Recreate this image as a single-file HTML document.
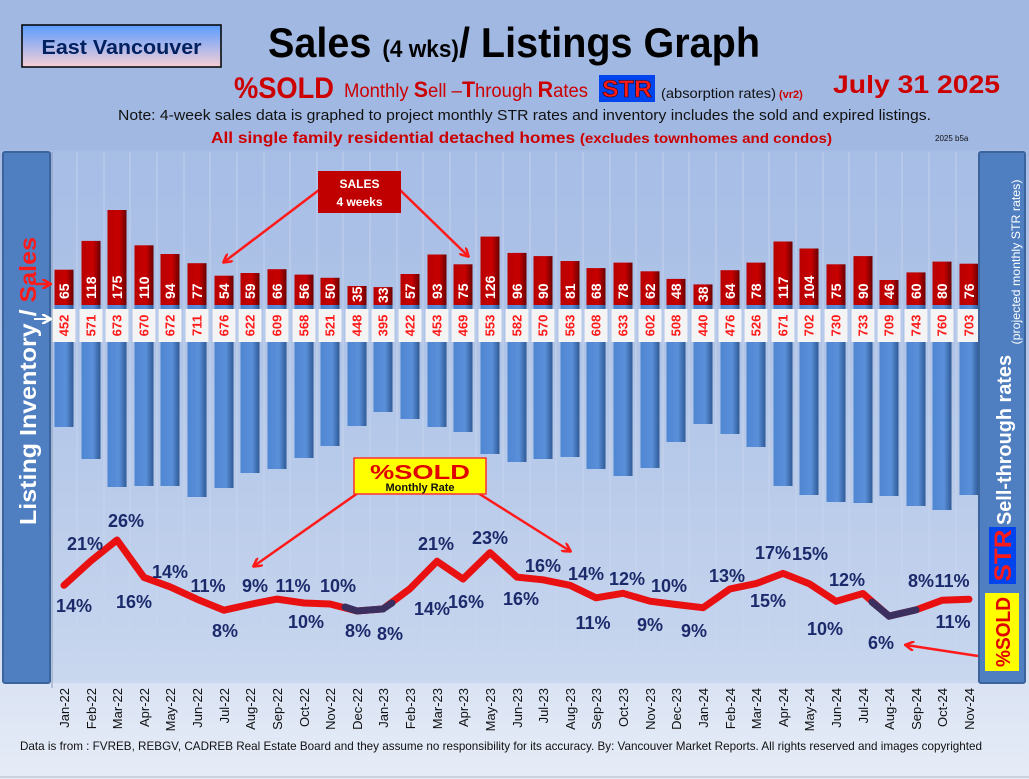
<!DOCTYPE html>
<html><head><meta charset="utf-8"><style>
html,body{margin:0;padding:0;width:1029px;height:779px;overflow:hidden;}
svg{display:block;}
</style></head><body>
<svg width="1029" height="779" viewBox="0 0 1029 779" xmlns="http://www.w3.org/2000/svg" font-family="'Liberation Sans',sans-serif">
<defs>
<linearGradient id="bg" x1="0" y1="0" x2="0" y2="1"><stop offset="0" stop-color="#9cb4e2"/><stop offset="0.5" stop-color="#b7c9ea"/><stop offset="1" stop-color="#e6ecf7"/></linearGradient>
<linearGradient id="ev" x1="0" y1="0" x2="0" y2="1"><stop offset="0" stop-color="#5a9cff"/><stop offset="1" stop-color="#f6cfd6"/></linearGradient>
<linearGradient id="rb" x1="0" y1="0" x2="1" y2="0"><stop offset="0" stop-color="#b80000"/><stop offset="0.6" stop-color="#c80000"/><stop offset="1" stop-color="#6a0000"/></linearGradient>
<linearGradient id="bb" x1="0" y1="0" x2="1" y2="0"><stop offset="0" stop-color="#4f86d2"/><stop offset="0.6" stop-color="#5a90da"/><stop offset="1" stop-color="#2f5a96"/></linearGradient>
<marker id="ah" markerWidth="10" markerHeight="10" refX="8" refY="5" orient="auto" markerUnits="userSpaceOnUse"><path d="M0,0 L9,5 L0,10" fill="none" stroke="#ff1a1a" stroke-width="2.5"/></marker>
<marker id="aw" markerWidth="10" markerHeight="10" refX="8" refY="5" orient="auto" markerUnits="userSpaceOnUse"><path d="M0,0 L9,5 L0,10" fill="none" stroke="#fff" stroke-width="2.5"/></marker>
</defs>
<rect width="1029" height="779" fill="url(#bg)"/>
<rect x="0" y="0" width="1029" height="150" fill="#a1b8e3"/>
<rect x="22" y="25" width="199" height="42" fill="url(#ev)" stroke="#000" stroke-width="1.5"/>
<text x="121.5" y="54" text-anchor="middle" font-size="20" font-weight="bold" fill="#002060" textLength="160" lengthAdjust="spacingAndGlyphs">East Vancouver</text>
<text x="268" y="57" font-size="42" font-weight="bold" fill="#000" textLength="492" lengthAdjust="spacingAndGlyphs">Sales <tspan font-size="24">(4 wks)</tspan>/ Listings Graph</text>
<text x="234" y="98" font-size="30" font-weight="bold" fill="#cc0000" textLength="100" lengthAdjust="spacingAndGlyphs">%SOLD</text>
<text x="344" y="97" font-size="19" fill="#cc0000" textLength="244" lengthAdjust="spacingAndGlyphs">Monthly <tspan font-weight="bold" font-size="22">S</tspan>ell –<tspan font-weight="bold" font-size="22">T</tspan>hrough <tspan font-weight="bold" font-size="22">R</tspan>ates</text>
<rect x="599" y="75" width="56" height="27" fill="#0044ee"/>
<text x="627" y="97" text-anchor="middle" font-size="24" font-weight="bold" fill="#ff1a1a" stroke="#300" stroke-width="0.6" textLength="50" lengthAdjust="spacingAndGlyphs">STR</text>
<text x="661" y="98" font-size="14" fill="#111" textLength="115" lengthAdjust="spacingAndGlyphs">(absorption rates)</text>
<text x="779" y="98" font-size="11" font-weight="bold" fill="#cc0000">(vr2)</text>
<text x="833" y="93" font-size="25" font-weight="bold" fill="#cc0000" textLength="167" lengthAdjust="spacingAndGlyphs">July   31  2025</text>
<text x="118" y="120" font-size="15" fill="#111" textLength="813" lengthAdjust="spacingAndGlyphs">Note: 4-week sales data is graphed to project monthly STR rates and inventory includes the sold and expired listings.</text>
<text x="211" y="143" font-size="16" font-weight="bold" fill="#cc0000" textLength="621" lengthAdjust="spacingAndGlyphs">All single family residential detached homes <tspan font-size="14">(excludes townhomes and condos)</tspan></text>
<text x="935" y="141" font-size="8" fill="#111">2025 b5a</text>
<rect x="52" y="152" width="926" height="531" fill="#a9bfe6" opacity="0.35"/>
<g stroke="#c9d6ef" stroke-width="1" opacity="0.8">
<line x1="77" y1="152" x2="77" y2="683"/><line x1="104" y1="152" x2="104" y2="683"/><line x1="130" y1="152" x2="130" y2="683"/><line x1="157" y1="152" x2="157" y2="683"/><line x1="184" y1="152" x2="184" y2="683"/><line x1="210" y1="152" x2="210" y2="683"/><line x1="237" y1="152" x2="237" y2="683"/><line x1="264" y1="152" x2="264" y2="683"/><line x1="290" y1="152" x2="290" y2="683"/><line x1="317" y1="152" x2="317" y2="683"/><line x1="343" y1="152" x2="343" y2="683"/><line x1="370" y1="152" x2="370" y2="683"/><line x1="397" y1="152" x2="397" y2="683"/><line x1="423" y1="152" x2="423" y2="683"/><line x1="450" y1="152" x2="450" y2="683"/><line x1="476" y1="152" x2="476" y2="683"/><line x1="503" y1="152" x2="503" y2="683"/><line x1="530" y1="152" x2="530" y2="683"/><line x1="556" y1="152" x2="556" y2="683"/><line x1="583" y1="152" x2="583" y2="683"/><line x1="610" y1="152" x2="610" y2="683"/><line x1="636" y1="152" x2="636" y2="683"/><line x1="663" y1="152" x2="663" y2="683"/><line x1="689" y1="152" x2="689" y2="683"/><line x1="716" y1="152" x2="716" y2="683"/><line x1="743" y1="152" x2="743" y2="683"/><line x1="769" y1="152" x2="769" y2="683"/><line x1="796" y1="152" x2="796" y2="683"/><line x1="823" y1="152" x2="823" y2="683"/><line x1="849" y1="152" x2="849" y2="683"/><line x1="876" y1="152" x2="876" y2="683"/><line x1="902" y1="152" x2="902" y2="683"/><line x1="929" y1="152" x2="929" y2="683"/><line x1="956" y1="152" x2="956" y2="683"/>
</g>
<line x1="52" y1="152" x2="52" y2="688" stroke="#8a9bb8" stroke-width="1"/>
<g fill="url(#bb)">
<rect x="54.5" y="305" width="19" height="122"/><rect x="81.5" y="305" width="19" height="154"/><rect x="107.5" y="305" width="19" height="182"/><rect x="134.5" y="305" width="19" height="181"/><rect x="160.5" y="305" width="19" height="181"/><rect x="187.5" y="305" width="19" height="192"/><rect x="214.5" y="305" width="19" height="183"/><rect x="240.5" y="305" width="19" height="168"/><rect x="267.5" y="305" width="19" height="164"/><rect x="294.5" y="305" width="19" height="153"/><rect x="320.5" y="305" width="19" height="141"/><rect x="347.5" y="305" width="19" height="121"/><rect x="373.5" y="305" width="19" height="107"/><rect x="400.5" y="305" width="19" height="114"/><rect x="427.5" y="305" width="19" height="122"/><rect x="453.5" y="305" width="19" height="127"/><rect x="480.5" y="305" width="19" height="149"/><rect x="507.5" y="305" width="19" height="157"/><rect x="533.5" y="305" width="19" height="154"/><rect x="560.5" y="305" width="19" height="152"/><rect x="586.5" y="305" width="19" height="164"/><rect x="613.5" y="305" width="19" height="171"/><rect x="640.5" y="305" width="19" height="163"/><rect x="666.5" y="305" width="19" height="137"/><rect x="693.5" y="305" width="19" height="119"/><rect x="720.5" y="305" width="19" height="129"/><rect x="746.5" y="305" width="19" height="142"/><rect x="773.5" y="305" width="19" height="181"/><rect x="799.5" y="305" width="19" height="190"/><rect x="826.5" y="305" width="19" height="197"/><rect x="853.5" y="305" width="19" height="198"/><rect x="879.5" y="305" width="19" height="191"/><rect x="906.5" y="305" width="19" height="201"/><rect x="932.5" y="305" width="19" height="205"/><rect x="959.5" y="305" width="19" height="190"/>
</g>
<g fill="url(#rb)">
<rect x="54.5" y="269.7" width="19" height="35.3"/><rect x="81.5" y="240.9" width="19" height="64.1"/><rect x="107.5" y="210" width="19" height="95"/><rect x="134.5" y="245.3" width="19" height="59.7"/><rect x="160.5" y="254" width="19" height="51"/><rect x="187.5" y="263.2" width="19" height="41.8"/><rect x="214.5" y="275.7" width="19" height="29.3"/><rect x="240.5" y="273" width="19" height="32"/><rect x="267.5" y="269.2" width="19" height="35.8"/><rect x="294.5" y="274.6" width="19" height="30.4"/><rect x="320.5" y="277.8" width="19" height="27.2"/><rect x="347.5" y="286" width="19" height="19"/><rect x="373.5" y="287.1" width="19" height="17.9"/><rect x="400.5" y="274" width="19" height="31"/><rect x="427.5" y="254.5" width="19" height="50.5"/><rect x="453.5" y="264.3" width="19" height="40.7"/><rect x="480.5" y="236.6" width="19" height="68.4"/><rect x="507.5" y="252.9" width="19" height="52.1"/><rect x="533.5" y="256.1" width="19" height="48.9"/><rect x="560.5" y="261" width="19" height="44"/><rect x="586.5" y="268.1" width="19" height="36.9"/><rect x="613.5" y="262.6" width="19" height="42.4"/><rect x="640.5" y="271.3" width="19" height="33.7"/><rect x="666.5" y="278.9" width="19" height="26.1"/><rect x="693.5" y="284.4" width="19" height="20.6"/><rect x="720.5" y="270.2" width="19" height="34.8"/><rect x="746.5" y="262.6" width="19" height="42.4"/><rect x="773.5" y="241.5" width="19" height="63.5"/><rect x="799.5" y="248.5" width="19" height="56.5"/><rect x="826.5" y="264.3" width="19" height="40.7"/><rect x="853.5" y="256.1" width="19" height="48.9"/><rect x="879.5" y="280" width="19" height="25"/><rect x="906.5" y="272.4" width="19" height="32.6"/><rect x="932.5" y="261.6" width="19" height="43.4"/><rect x="959.5" y="263.7" width="19" height="41.3"/>
</g>
<g fill="#f4f4f4">
<rect x="52.5" y="309" width="23" height="33"/><rect x="79.5" y="309" width="23" height="33"/><rect x="105.5" y="309" width="23" height="33"/><rect x="132.5" y="309" width="23" height="33"/><rect x="158.5" y="309" width="23" height="33"/><rect x="185.5" y="309" width="23" height="33"/><rect x="212.5" y="309" width="23" height="33"/><rect x="238.5" y="309" width="23" height="33"/><rect x="265.5" y="309" width="23" height="33"/><rect x="292.5" y="309" width="23" height="33"/><rect x="318.5" y="309" width="23" height="33"/><rect x="345.5" y="309" width="23" height="33"/><rect x="371.5" y="309" width="23" height="33"/><rect x="398.5" y="309" width="23" height="33"/><rect x="425.5" y="309" width="23" height="33"/><rect x="451.5" y="309" width="23" height="33"/><rect x="478.5" y="309" width="23" height="33"/><rect x="505.5" y="309" width="23" height="33"/><rect x="531.5" y="309" width="23" height="33"/><rect x="558.5" y="309" width="23" height="33"/><rect x="584.5" y="309" width="23" height="33"/><rect x="611.5" y="309" width="23" height="33"/><rect x="638.5" y="309" width="23" height="33"/><rect x="664.5" y="309" width="23" height="33"/><rect x="691.5" y="309" width="23" height="33"/><rect x="718.5" y="309" width="23" height="33"/><rect x="744.5" y="309" width="23" height="33"/><rect x="771.5" y="309" width="23" height="33"/><rect x="797.5" y="309" width="23" height="33"/><rect x="824.5" y="309" width="23" height="33"/><rect x="851.5" y="309" width="23" height="33"/><rect x="877.5" y="309" width="23" height="33"/><rect x="904.5" y="309" width="23" height="33"/><rect x="930.5" y="309" width="23" height="33"/><rect x="957.5" y="309" width="23" height="33"/>
</g>
<g font-size="13" font-weight="bold" fill="#ff1a1a" text-anchor="middle">
<text transform="translate(68.5,325.5) rotate(-90)">452</text><text transform="translate(95.5,325.5) rotate(-90)">571</text><text transform="translate(121.5,325.5) rotate(-90)">673</text><text transform="translate(148.5,325.5) rotate(-90)">670</text><text transform="translate(174.5,325.5) rotate(-90)">672</text><text transform="translate(201.5,325.5) rotate(-90)">711</text><text transform="translate(228.5,325.5) rotate(-90)">676</text><text transform="translate(254.5,325.5) rotate(-90)">622</text><text transform="translate(281.5,325.5) rotate(-90)">609</text><text transform="translate(308.5,325.5) rotate(-90)">568</text><text transform="translate(334.5,325.5) rotate(-90)">521</text><text transform="translate(361.5,325.5) rotate(-90)">448</text><text transform="translate(387.5,325.5) rotate(-90)">395</text><text transform="translate(414.5,325.5) rotate(-90)">422</text><text transform="translate(441.5,325.5) rotate(-90)">453</text><text transform="translate(467.5,325.5) rotate(-90)">469</text><text transform="translate(494.5,325.5) rotate(-90)">553</text><text transform="translate(521.5,325.5) rotate(-90)">582</text><text transform="translate(547.5,325.5) rotate(-90)">570</text><text transform="translate(574.5,325.5) rotate(-90)">563</text><text transform="translate(600.5,325.5) rotate(-90)">608</text><text transform="translate(627.5,325.5) rotate(-90)">633</text><text transform="translate(654.5,325.5) rotate(-90)">602</text><text transform="translate(680.5,325.5) rotate(-90)">508</text><text transform="translate(707.5,325.5) rotate(-90)">440</text><text transform="translate(734.5,325.5) rotate(-90)">476</text><text transform="translate(760.5,325.5) rotate(-90)">526</text><text transform="translate(787.5,325.5) rotate(-90)">671</text><text transform="translate(813.5,325.5) rotate(-90)">702</text><text transform="translate(840.5,325.5) rotate(-90)">730</text><text transform="translate(867.5,325.5) rotate(-90)">733</text><text transform="translate(893.5,325.5) rotate(-90)">709</text><text transform="translate(920.5,325.5) rotate(-90)">743</text><text transform="translate(946.5,325.5) rotate(-90)">760</text><text transform="translate(973.5,325.5) rotate(-90)">703</text>
</g>
<g font-size="14" font-weight="bold" fill="#fff">
<text transform="translate(69,299) rotate(-90)">65</text><text transform="translate(96,299) rotate(-90)">118</text><text transform="translate(122,299) rotate(-90)">175</text><text transform="translate(149,299) rotate(-90)">110</text><text transform="translate(175,299) rotate(-90)">94</text><text transform="translate(202,299) rotate(-90)">77</text><text transform="translate(229,299) rotate(-90)">54</text><text transform="translate(255,299) rotate(-90)">59</text><text transform="translate(282,299) rotate(-90)">66</text><text transform="translate(309,299) rotate(-90)">56</text><text transform="translate(335,299) rotate(-90)">50</text><text transform="translate(362,302) rotate(-90)">35</text><text transform="translate(388,303) rotate(-90)">33</text><text transform="translate(415,299) rotate(-90)">57</text><text transform="translate(442,299) rotate(-90)">93</text><text transform="translate(468,299) rotate(-90)">75</text><text transform="translate(495,299) rotate(-90)">126</text><text transform="translate(522,299) rotate(-90)">96</text><text transform="translate(548,299) rotate(-90)">90</text><text transform="translate(575,299) rotate(-90)">81</text><text transform="translate(601,299) rotate(-90)">68</text><text transform="translate(628,299) rotate(-90)">78</text><text transform="translate(655,299) rotate(-90)">62</text><text transform="translate(681,299) rotate(-90)">48</text><text transform="translate(708,302) rotate(-90)">38</text><text transform="translate(735,299) rotate(-90)">64</text><text transform="translate(761,299) rotate(-90)">78</text><text transform="translate(788,299) rotate(-90)">117</text><text transform="translate(814,299) rotate(-90)">104</text><text transform="translate(841,299) rotate(-90)">75</text><text transform="translate(868,299) rotate(-90)">90</text><text transform="translate(894,299) rotate(-90)">46</text><text transform="translate(921,299) rotate(-90)">60</text><text transform="translate(947,299) rotate(-90)">80</text><text transform="translate(974,299) rotate(-90)">76</text>
</g>
<polyline fill="none" stroke="#e81010" stroke-width="7" stroke-linejoin="round" stroke-linecap="round" points="64,585.3 91,560.8 117,540 144,577.4 170,586.8 197,599.2 224,610.2 250,604.4 277,599.1 304,603 330,604 357,611 383,608.9 410,588.7 437,561.3 463,579 490,552.6 517,577.1 543,579.8 570,585.3 596,597.8 623,593.3 650,601.2 676,604.5 703,607.7 730,588.9 756,583.6 783,573.4 809,583.6 836,601.3 863,593.5 889,616.1 916,609.9 942,600.3 969,599.2"/>
<polyline fill="none" stroke="#3a2f5e" stroke-width="7" stroke-linecap="round" points="345,607 357,611 383,608.9 392,603"/>
<polyline fill="none" stroke="#3a2f5e" stroke-width="7" stroke-linecap="round" points="872,602 889,616.1 916,609.9"/>
<g font-size="18" font-weight="bold" fill="#1b2a6b" text-anchor="middle">
<text x="74" y="612">14%</text><text x="85" y="550">21%</text><text x="126" y="527">26%</text><text x="134" y="608">16%</text><text x="170" y="578">14%</text><text x="208" y="592">11%</text><text x="225" y="637">8%</text><text x="255" y="592">9%</text><text x="293" y="592">11%</text><text x="306" y="628">10%</text><text x="338" y="592">10%</text><text x="358" y="637">8%</text><text x="390" y="640">8%</text><text x="432" y="615">14%</text><text x="436" y="550">21%</text><text x="466" y="608">16%</text><text x="490" y="544">23%</text><text x="521" y="605">16%</text><text x="543" y="572">16%</text><text x="586" y="580">14%</text><text x="593" y="629">11%</text><text x="627" y="585">12%</text><text x="650" y="631">9%</text><text x="669" y="592">10%</text><text x="694" y="637">9%</text><text x="727" y="582">13%</text><text x="768" y="607">15%</text><text x="773" y="559">17%</text><text x="810" y="560">15%</text><text x="825" y="635">10%</text><text x="847" y="586">12%</text><text x="881" y="649">6%</text><text x="921" y="587">8%</text><text x="952" y="587">11%</text><text x="953" y="628">11%</text>
</g>
<line x1="319" y1="190" x2="224" y2="262" stroke="#ff1a1a" stroke-width="2.5" marker-end="url(#ah)"/>
<line x1="400" y1="190" x2="468" y2="256" stroke="#ff1a1a" stroke-width="2.5" marker-end="url(#ah)"/>
<rect x="318" y="171" width="83" height="42" fill="#c00000"/>
<text x="359.5" y="188" text-anchor="middle" font-size="12" font-weight="bold" fill="#fff">SALES</text>
<text x="359.5" y="206" text-anchor="middle" font-size="12" font-weight="bold" fill="#fff">4  weeks</text>
<line x1="365" y1="488" x2="254" y2="566" stroke="#ff1a1a" stroke-width="2.5" marker-end="url(#ah)"/>
<line x1="470" y1="488" x2="570" y2="551" stroke="#ff1a1a" stroke-width="2.5" marker-end="url(#ah)"/>
<rect x="354" y="458" width="132" height="36" fill="#ffff00" stroke="#ff3030" stroke-width="1.5"/>
<text x="420" y="479" text-anchor="middle" font-size="20" font-weight="bold" fill="#e00000" textLength="100" lengthAdjust="spacingAndGlyphs">%SOLD</text>
<text x="420" y="491" text-anchor="middle" font-size="11" font-weight="bold" fill="#111">Monthly Rate</text>
<line x1="978" y1="656" x2="906" y2="645" stroke="#ff1a1a" stroke-width="2.5" marker-end="url(#ah)"/>
<rect x="3" y="152" width="47" height="531" rx="2" fill="#4f7fc0" stroke="#3b649d" stroke-width="2"/>
<text transform="translate(36,381) rotate(-90)" text-anchor="middle" font-size="23" font-weight="bold" fill="#fff" textLength="288" lengthAdjust="spacingAndGlyphs">Listing Inventory / <tspan fill="#ff1a1a">Sales</tspan></text>
<line x1="35" y1="284" x2="50" y2="284" stroke="#ff1a1a" stroke-width="2.5" marker-end="url(#ah)"/>
<line x1="34" y1="319" x2="50" y2="319" stroke="#fff" stroke-width="2" marker-end="url(#aw)"/>
<rect x="979" y="152" width="46" height="531" rx="2" fill="#4f7fc0" stroke="#3b649d" stroke-width="2"/>
<text transform="translate(1011,440) rotate(-90)" text-anchor="middle" font-size="20" font-weight="bold" fill="#fff" textLength="170" lengthAdjust="spacingAndGlyphs">Sell-through rates</text>
<text transform="translate(1020,262) rotate(-90)" text-anchor="middle" font-size="12" fill="#fff" textLength="165" lengthAdjust="spacingAndGlyphs">(projected monthly STR rates)</text>
<rect x="989" y="527" width="27" height="57" fill="#0044ee"/>
<text transform="translate(1011,555.5) rotate(-90)" text-anchor="middle" font-size="24" font-weight="bold" fill="#ff1a1a" textLength="52" lengthAdjust="spacingAndGlyphs">STR</text>
<rect x="985" y="593" width="34" height="78" fill="#ffff00"/>
<text transform="translate(1010,632) rotate(-90)" text-anchor="middle" font-size="20" font-weight="bold" fill="#e00000" textLength="70" lengthAdjust="spacingAndGlyphs">%SOLD</text>
<g font-size="13" fill="#111" text-anchor="end">
<text transform="translate(69,688) rotate(-90)">Jan-22</text><text transform="translate(96,688) rotate(-90)">Feb-22</text><text transform="translate(122,688) rotate(-90)">Mar-22</text><text transform="translate(149,688) rotate(-90)">Apr-22</text><text transform="translate(175,688) rotate(-90)">May-22</text><text transform="translate(202,688) rotate(-90)">Jun-22</text><text transform="translate(229,688) rotate(-90)">Jul-22</text><text transform="translate(255,688) rotate(-90)">Aug-22</text><text transform="translate(282,688) rotate(-90)">Sep-22</text><text transform="translate(309,688) rotate(-90)">Oct-22</text><text transform="translate(335,688) rotate(-90)">Nov-22</text><text transform="translate(362,688) rotate(-90)">Dec-22</text><text transform="translate(388,688) rotate(-90)">Jan-23</text><text transform="translate(415,688) rotate(-90)">Feb-23</text><text transform="translate(442,688) rotate(-90)">Mar-23</text><text transform="translate(468,688) rotate(-90)">Apr-23</text><text transform="translate(495,688) rotate(-90)">May-23</text><text transform="translate(522,688) rotate(-90)">Jun-23</text><text transform="translate(548,688) rotate(-90)">Jul-23</text><text transform="translate(575,688) rotate(-90)">Aug-23</text><text transform="translate(601,688) rotate(-90)">Sep-23</text><text transform="translate(628,688) rotate(-90)">Oct-23</text><text transform="translate(655,688) rotate(-90)">Nov-23</text><text transform="translate(681,688) rotate(-90)">Dec-23</text><text transform="translate(708,688) rotate(-90)">Jan-24</text><text transform="translate(735,688) rotate(-90)">Feb-24</text><text transform="translate(761,688) rotate(-90)">Mar-24</text><text transform="translate(788,688) rotate(-90)">Apr-24</text><text transform="translate(814,688) rotate(-90)">May-24</text><text transform="translate(841,688) rotate(-90)">Jun-24</text><text transform="translate(868,688) rotate(-90)">Jul-24</text><text transform="translate(894,688) rotate(-90)">Aug-24</text><text transform="translate(921,688) rotate(-90)">Sep-24</text><text transform="translate(947,688) rotate(-90)">Oct-24</text><text transform="translate(974,688) rotate(-90)">Nov-24</text>
</g>
<text x="20" y="750" font-size="12" fill="#111" textLength="962" lengthAdjust="spacingAndGlyphs">Data is from : FVREB, REBGV, CADREB Real Estate Board and they assume no responsibility for its accuracy. By: Vancouver Market Reports. All rights reserved and  images copyrighted</text>
<line x1="0" y1="777" x2="1029" y2="777" stroke="#b0b8c8" stroke-width="1"/>
</svg>
</body></html>
